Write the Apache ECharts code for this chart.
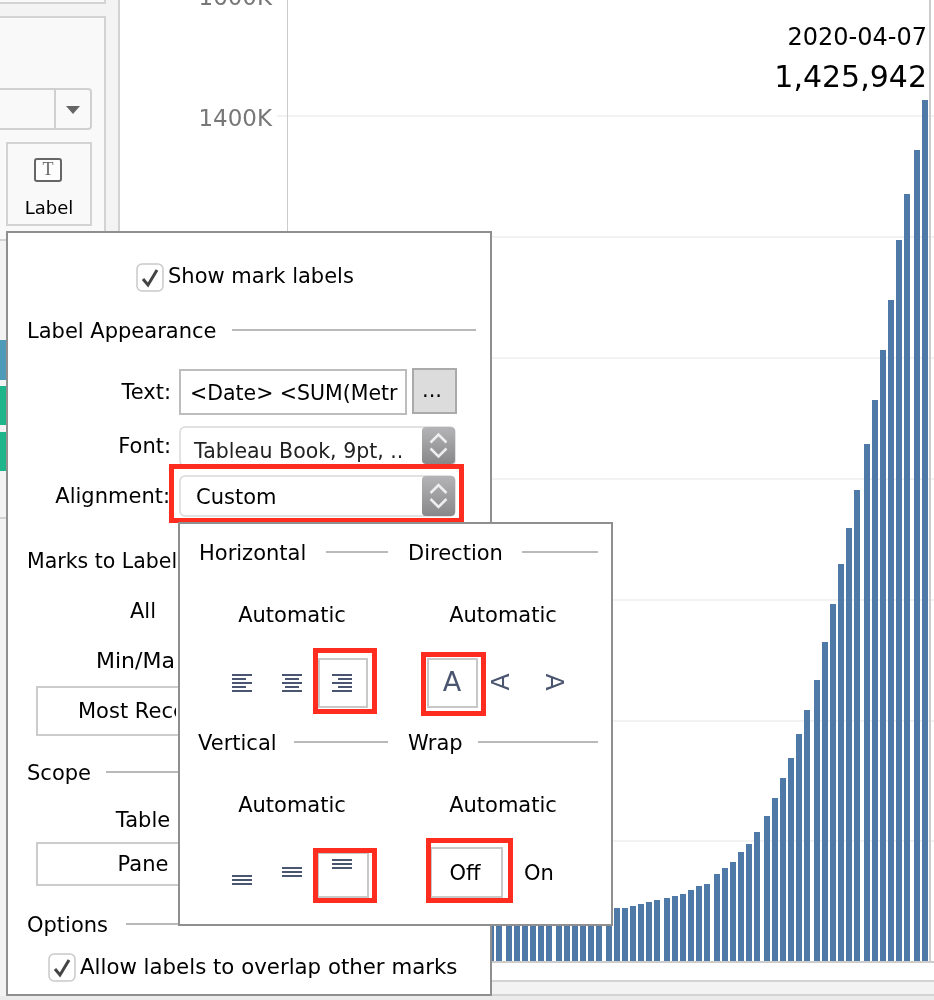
<!DOCTYPE html>
<html>
<head>
<meta charset="utf-8">
<style>
  html, body { margin: 0; padding: 0; background: #fff; overflow: hidden; }
  #main { width: 934px; height: 1000px; }
</style>
<script src="https://cdn.jsdelivr.net/npm/echarts@6/dist/echarts.min.js"></script>
</head>
<body>
<div id="main"></div>
<script>
// dates of the bars, one per day
var dates = [
  '2020-01-22','2020-01-23','2020-01-24','2020-01-25','2020-01-26','2020-01-27','2020-01-28','2020-01-29','2020-01-30','2020-01-31',
  '2020-02-01','2020-02-02','2020-02-03','2020-02-04','2020-02-05','2020-02-06','2020-02-07','2020-02-08','2020-02-09','2020-02-10',
  '2020-02-11','2020-02-12','2020-02-13','2020-02-14','2020-02-15','2020-02-16','2020-02-17','2020-02-18','2020-02-19','2020-02-20',
  '2020-02-21','2020-02-22','2020-02-23','2020-02-24','2020-02-25','2020-02-26','2020-02-27','2020-02-28','2020-02-29',
  '2020-03-01','2020-03-02','2020-03-03','2020-03-04','2020-03-05','2020-03-06','2020-03-07','2020-03-08','2020-03-09','2020-03-10',
  '2020-03-11','2020-03-12','2020-03-13','2020-03-14','2020-03-15','2020-03-16','2020-03-17','2020-03-18','2020-03-19','2020-03-20',
  '2020-03-21','2020-03-22','2020-03-23','2020-03-24','2020-03-25','2020-03-26','2020-03-27','2020-03-28','2020-03-29','2020-03-30',
  '2020-03-31','2020-04-01','2020-04-02','2020-04-03','2020-04-04','2020-04-05','2020-04-06','2020-04-07'
]
// January and February sit behind the dialog, so these are estimates
var hiddenValues = [
  555, 654, 941, 1434, 2118, 2927, 5578, 6166, 8234, 9927,
  12038, 16787, 19881, 23892, 27635, 30794, 34391, 37120, 40150, 42762,
  44802, 45221, 60368, 66885, 69030, 71224, 73258, 75136, 75639, 76197,
  76819, 78572, 78958, 79561, 80406, 81388, 82746, 84112, 86011
]
var visibleValues = [
  89000, 90000, 92800, 96000, 99300, 102600, 105900, 109200, 112500, 119100,
  125800, 129000, 145600, 155600, 165500, 182000, 195300, 215000, 241600, 271400,
  304500, 337600, 377300, 417000, 466700, 529500, 592400, 658600, 718000, 781000,
  857000, 930000, 1013000, 1095500, 1195000, 1271000, 1344000, 1425942
]
var values = hiddenValues.concat(visibleValues)
var yTickInterval = 200000
var yMax = 1600000

var FONT = '"DejaVu Sans"'
var RED = '#ff2d20'
var ICON = '#4a5570'
var RULE = '#b9b9b9'
var UI = 21
var elements = []

// little drawing helpers for the Tableau panels around the chart
function box(x0, y0, x1, y1, fill, stroke, lw, r) {
  elements.push({
    type: 'rect', z: 100 + elements.length, silent: true,
    shape: { x: x0, y: y0, width: x1 - x0, height: y1 - y0, r: r || 0 },
    style: { fill: fill || 'none', stroke: stroke || 'none', lineWidth: lw || 0 }
  })
}
function gradBox(x0, y0, x1, y1, r) {
  elements.push({
    type: 'rect', z: 100 + elements.length, silent: true,
    shape: { x: x0, y: y0, width: x1 - x0, height: y1 - y0, r: r },
    style: { fill: new echarts.graphic.LinearGradient(0, 0, 0, 1, [
      { offset: 0, color: '#b4b4b6' }, { offset: 1, color: '#88888a' }
    ]) }
  })
}
function line(x0, y0, x1, y1, color, lw) {
  elements.push({
    type: 'line', z: 100 + elements.length, silent: true,
    shape: { x1: x0, y1: y0, x2: x1, y2: y1 },
    style: { stroke: color || RULE, lineWidth: lw || 2 }
  })
}
function poly(points, color, lw) {
  elements.push({
    type: 'polyline', z: 100 + elements.length, silent: true,
    shape: { points: points },
    style: { fill: 'none', stroke: color, lineWidth: lw }
  })
}
function tri(points, color) {
  elements.push({
    type: 'polygon', z: 100 + elements.length, silent: true,
    shape: { points: points },
    style: { fill: color }
  })
}
function label(str, x, y, align, size, color, family, rotation) {
  elements.push({
    type: 'text', z: 100 + elements.length, silent: true,
    x: x, y: y + (rotation ? 0 : 2), rotation: rotation || 0,
    style: {
      text: str, x: 0, y: 0, align: align || 'left', verticalAlign: 'middle',
      fontFamily: family || FONT, fontSize: size || UI, fill: color || '#000'
    }
  })
}
function redBox(x0, y0, x1, y1) {
  box(x0 + 2.5, y0 + 2.5, x1 - 2.5, y1 - 2.5, null, RED, 5)
}
function checkbox(x, y) {
  box(x, y, x + 26, y + 27, '#fff', '#c9c9c9', 1.5, 5)
  poly([[x + 6, y + 15], [x + 11, y + 21], [x + 20, y + 6]], '#444', 3)
}
function stepper(x0, y0, x1, y1) {
  gradBox(x0, y0, x1, y1, 4)
  var cx = (x0 + x1) / 2, cy = (y0 + y1) / 2
  poly([[cx - 8, cy - 3], [cx, cy - 11], [cx + 8, cy - 3]], '#eee', 2.5)
  poly([[cx - 8, cy + 3], [cx, cy + 11], [cx + 8, cy + 3]], '#eee', 2.5)
}
function stripes(x, y, widths, anchor) {
  for (var i = 0; i < widths.length; i++) {
    var w = widths[i]
    var left = anchor === 'left' ? x : anchor === 'right' ? x + 20 - w : x + (20 - w) / 2
    line(left, y + i * 4, left + w, y + i * 4, ICON, 2)
  }
}

// sidebar behind the dialog
box(0, 0, 119, 1000, '#f3f3f3')
line(119, 0, 119, 1000, '#d3d3d3', 2)
box(-4, -10, 105, 3, '#f9f9f9', '#d3d3d3', 2)
box(-4, 17, 105, 240, '#f9f9f9', '#d3d3d3', 2)
box(-4, 89, 91, 129, '#f9f9f9', '#d0d0d0', 2, 3)
line(55, 89, 55, 129, '#d0d0d0', 2)
tri([[66, 106], [80, 106], [73, 114]], '#666')
box(7, 143, 91, 225, '#f9f9f9', '#d3d3d3', 2)
box(35, 159, 61, 181, '#fdfdfd', '#666', 2, 2)
label('T', 48, 168, 'center', 18, '#666', '"Liberation Serif"')
label('Label', 49, 207, 'center', 18)
box(0, 340, 6, 380, '#4e9bb9')
box(0, 386, 6, 425, '#1fb58a')
box(0, 432, 6, 471, '#1fb58a')
line(0, 518, 6, 518, '#d3d3d3', 2)

// bottom edge of the view
box(120, 963, 934, 981, '#fff')
line(120, 962, 934, 962, '#cccccc', 2)
line(120, 981, 934, 981, '#d3d3d3', 2)
box(120, 982, 934, 994, '#f3f3f3')
line(120, 995, 934, 995, '#d3d3d3', 2)
box(0, 996, 934, 1000, '#ebebeb')
box(929, 0, 931, 962, '#cccccc')

// the top of the 1200K label must not peek over the dialog
box(190, 224, 276, 232, '#fff')

// main dialog
box(7, 232, 491, 995, '#fff', '#8f8f8f', 2)
checkbox(137, 264)
label('Show mark labels', 168, 276)
label('Label Appearance', 27, 331)
line(232, 330, 476, 330)
label('Text:', 171, 392, 'right')
box(180, 370, 406, 414, '#fff', '#bdbdbd', 2)
label('<Date> <SUM(Metr', 190, 393, 'left', 20.5)
box(413, 369, 456, 413, '#dcdcdc', '#aaaaaa', 2)
label('...', 432, 390, 'center')
label('Font:', 171, 446, 'right')
box(180, 427, 455, 466, '#fff', '#d9d9d9', 1.5, 5)
stepper(422, 427, 455, 464)
label('Tableau Book, 9pt, ..', 194, 451, 'left', 20.5, '#222')
label('Alignment:', 170, 496, 'right')
box(180, 476, 455, 516, '#fff', '#d9d9d9', 1.5, 5)
stepper(422, 476, 455, 516)
label('Custom', 196, 497)
redBox(169, 464, 464, 523)

box(37, 687, 200, 735, '#fff', '#cccccc', 2)
box(37, 843, 200, 885, '#fff', '#cccccc', 2)
label('Marks to Label', 27, 561, 'left', 20.5)
label('All', 143, 611, 'center')
label('Min/Max', 96, 660, 'left', 22)
label('Most Recent', 78, 711)
label('Scope', 27, 773)
label('Table', 143, 820, 'center')
label('Pane', 143, 864, 'center')
label('Options', 27, 925)
// the popup's margin cuts the left column's text just before its border
box(176, 540, 179, 905, '#fff')
line(176, 687, 179, 687, '#cccccc', 2)
line(176, 735, 179, 735, '#cccccc', 2)
line(176, 843, 179, 843, '#cccccc', 2)
line(176, 885, 179, 885, '#cccccc', 2)
line(106, 772, 179, 772)
line(126, 924, 179, 924)
checkbox(49, 954)
label('Allow labels to overlap other marks', 80, 966, 'left', 21.3)

// alignment popup
box(179, 523, 612, 925, '#fff', '#8f8f8f', 2)
label('Horizontal', 199, 553)
line(326, 552, 388, 552)
label('Direction', 408, 553)
line(522, 552, 598, 552)
label('Automatic', 292, 615, 'center')
label('Automatic', 503, 615, 'center')
stripes(232, 675, [20, 14, 20, 14, 20], 'left')
stripes(282, 675, [20, 14, 20, 14, 20], 'center')
box(319, 659, 367, 707, '#fff', '#c8c8c8', 2)
stripes(332, 675, [20, 14, 20, 14, 20], 'right')
redBox(313, 648, 377, 714)
box(428, 659, 477, 707, '#fff', '#c8c8c8', 2)
label('A', 452, 682, 'center', 27, ICON)
redBox(421, 652, 486, 716)
label('A', 502, 682, 'center', 25, ICON, null, Math.PI / 2)
label('A', 552, 682, 'center', 25, ICON, null, -Math.PI / 2)
label('Vertical', 198, 743)
line(294, 742, 388, 742)
label('Wrap', 408, 743)
line(478, 742, 598, 742)
label('Automatic', 292, 805, 'center')
label('Automatic', 503, 805, 'center')
stripes(232, 876, [20, 20, 20], 'left')
stripes(282, 868, [20, 20, 20], 'left')
box(318, 853, 368, 897, '#fff', '#c8c8c8', 2)
stripes(332, 860, [20, 20, 20], 'left')
redBox(313, 848, 377, 903)
box(431, 848, 502, 897, '#fff', '#c8c8c8', 2)
redBox(426, 838, 513, 903)
label('Off', 465, 873, 'center')
label('On', 524, 873)

var splitStyle = { show: true, lineStyle: { color: '#f2f2f2', width: 2 } }
var lastIndex = values.length - 1

// bars land on even pixels like the screenshot, so the 6px columns stay crisp
function renderBar(params, api) {
  var top = api.coord([api.value(0), api.value(1)])
  var bottom = api.coord([api.value(0), 0])
  var x = Math.floor((top[0] - 3 + 0.5) / 2) * 2
  var y = Math.round(top[1])
  var el = {
    type: 'rect',
    shape: { x: x, y: y, width: 6, height: Math.round(bottom[1]) - y },
    style: { fill: '#4f79a7' }
  }
  if (params.dataIndex === lastIndex) {
    el.textContent = {
      style: {
        text: '{d|' + dates[lastIndex] + '}\n{v|' + values[lastIndex].toLocaleString('en-US') + '}',
        align: 'right', verticalAlign: 'bottom',
        rich: {
          d: { fontFamily: FONT, fontSize: 24, fill: '#000', align: 'right', lineHeight: 40 },
          v: { fontFamily: FONT, fontSize: 30, fill: '#000', align: 'right', lineHeight: 40 }
        }
      }
    }
    el.textConfig = { position: [5, -1] }
  }
  return el
}

var chart = echarts.init(document.getElementById('main'), null, { renderer: 'canvas' })
chart.setOption({
  animation: false,
  backgroundColor: '#fff',
  grid: [
    { left: 288, top: -5, width: 641, height: 967, outerBoundsMode: 'none' },
    { left: 931, top: -5, width: 3, height: 967, outerBoundsMode: 'none' }
  ],
  xAxis: [
    { type: 'category', data: dates, gridIndex: 0, axisLine: { show: false }, axisTick: { show: false }, axisLabel: { show: false } },
    { type: 'category', data: [''], gridIndex: 1, axisLine: { show: false }, axisTick: { show: false }, axisLabel: { show: false } }
  ],
  yAxis: [
    {
      type: 'value', gridIndex: 0, min: 0, max: yMax, interval: yTickInterval, offset: 1,
      axisLine: { show: true, lineStyle: { color: '#cccccc', width: 1 } },
      axisTick: { show: true, length: 10, lineStyle: { color: '#f2f2f2', width: 2 } },
      axisLabel: {
        margin: 15, color: '#777', fontFamily: FONT, fontSize: 23,
        verticalAlign: 'top', lineHeight: 8,
        formatter: function (v) { return v / 1000 + 'K' }
      },
      splitLine: splitStyle
    },
    {
      type: 'value', gridIndex: 1, min: 0, max: yMax, interval: yTickInterval,
      axisLine: { show: false }, axisTick: { show: false }, axisLabel: { show: false },
      splitLine: splitStyle
    }
  ],
  series: [{
    type: 'custom',
    xAxisIndex: 0, yAxisIndex: 0,
    data: values.map(function (v, i) { return [dates[i], v] }),
    encode: { x: 0, y: 1 },
    clip: false,
    renderItem: renderBar
  }],
  graphic: { elements: elements }
})
</script>
</body>
</html>
